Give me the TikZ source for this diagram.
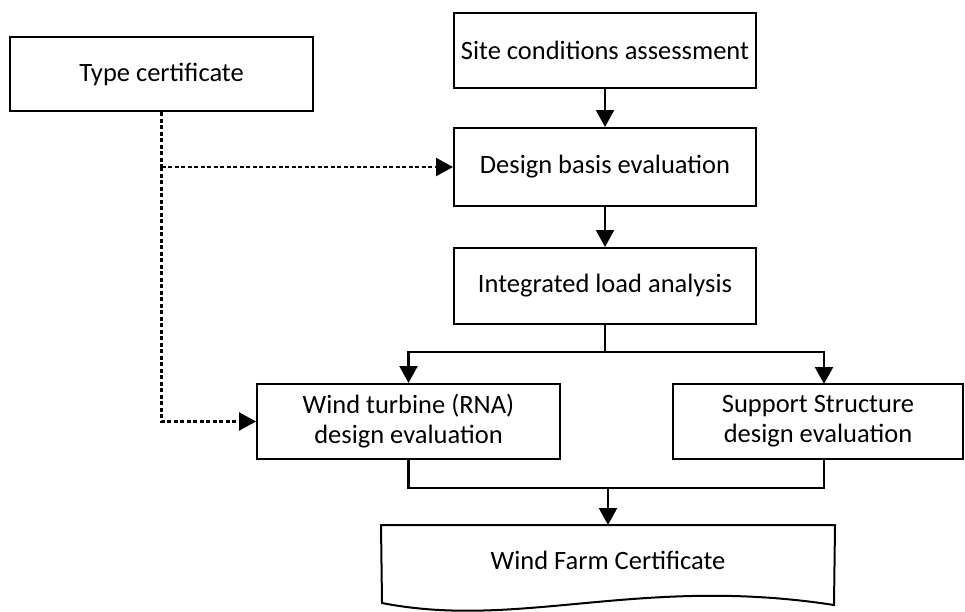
\documentclass[tikz,border=0pt]{standalone}
\usepackage{fontspec}
\setmainfont{Carlito}
\usetikzlibrary{arrows.meta}

\begin{document}
\begin{tikzpicture}[x=1pt, y=-1pt,
                every node/.style={draw, line width=2pt, align=center, font=\fontsize{26.5}{30}\selectfont}, % boxes
                flow/.style={line width=2.2pt, -{Triangle[length=17pt, width=18pt]}}, % solid arrows
                link/.style={line width=2.2pt}, % plain joins
                hint/.style={line width=2.2pt, dash pattern=on 4pt off 2.5pt}, % dotted links
                hintarrow/.style={hint, -{Triangle[length=17pt, width=18pt]}}
                ]
                \useasboundingbox (0,0) rectangle (965,611);
                \node[minimum width=303pt, minimum height=74pt] (typecert) at (161.5,74) {Type certificate};
                \node[minimum width=302pt, minimum height=75pt] (site) at (605,50.5) {Site conditions assessment};
                \node[minimum width=302pt, minimum height=78pt] (basis) at (605,167) {Design basis evaluation};
                \node[minimum width=302pt, minimum height=76pt] (loads) at (605,286) {Integrated load analysis};
                \node[minimum width=303pt, minimum height=75pt] (rna) at (408.5,421.5) {Wind turbine (RNA)\\design evaluation};
                \node[minimum width=290pt, minimum height=75pt] (support) at (818,421.5) {Support Structure\\design evaluation};
                \node[draw=none, minimum width=452pt, minimum height=68pt] (farm) at (608,560) {Wind Farm Certificate};
                % document shape
                \draw[line width=2pt] (farm.north west) -- (farm.north east) -- (834,605)
                    .. controls (640,575) and (520,630) .. (382,603) -- cycle;
                % main column
                \draw[flow] (site) -- (basis);
                \draw[flow] (basis) -- (loads);
                \coordinate (split) at (605,352);
                \coordinate (splitr) at (824,352);
                \coordinate (join) at (608,488);
                \draw[link] (loads) -- (split);
                \draw[flow] (split) -| (rna.north);
                \draw[flow] (split) -- (splitr) -- (824,384);
                \draw[link] (rna.south) |- (join);
                \draw[link] (824,459) |- (join);
                \draw[flow] (join) -- (farm.north);
                % type certificate links
                \coordinate (tee) at (typecert.south |- basis.west);
                \draw[hint] (typecert.south) -- (tee);
                \draw[hintarrow] (tee) -- (basis.west);
                \draw[hintarrow] (tee) |- (rna.west);
            \end{tikzpicture}
\end{document}
